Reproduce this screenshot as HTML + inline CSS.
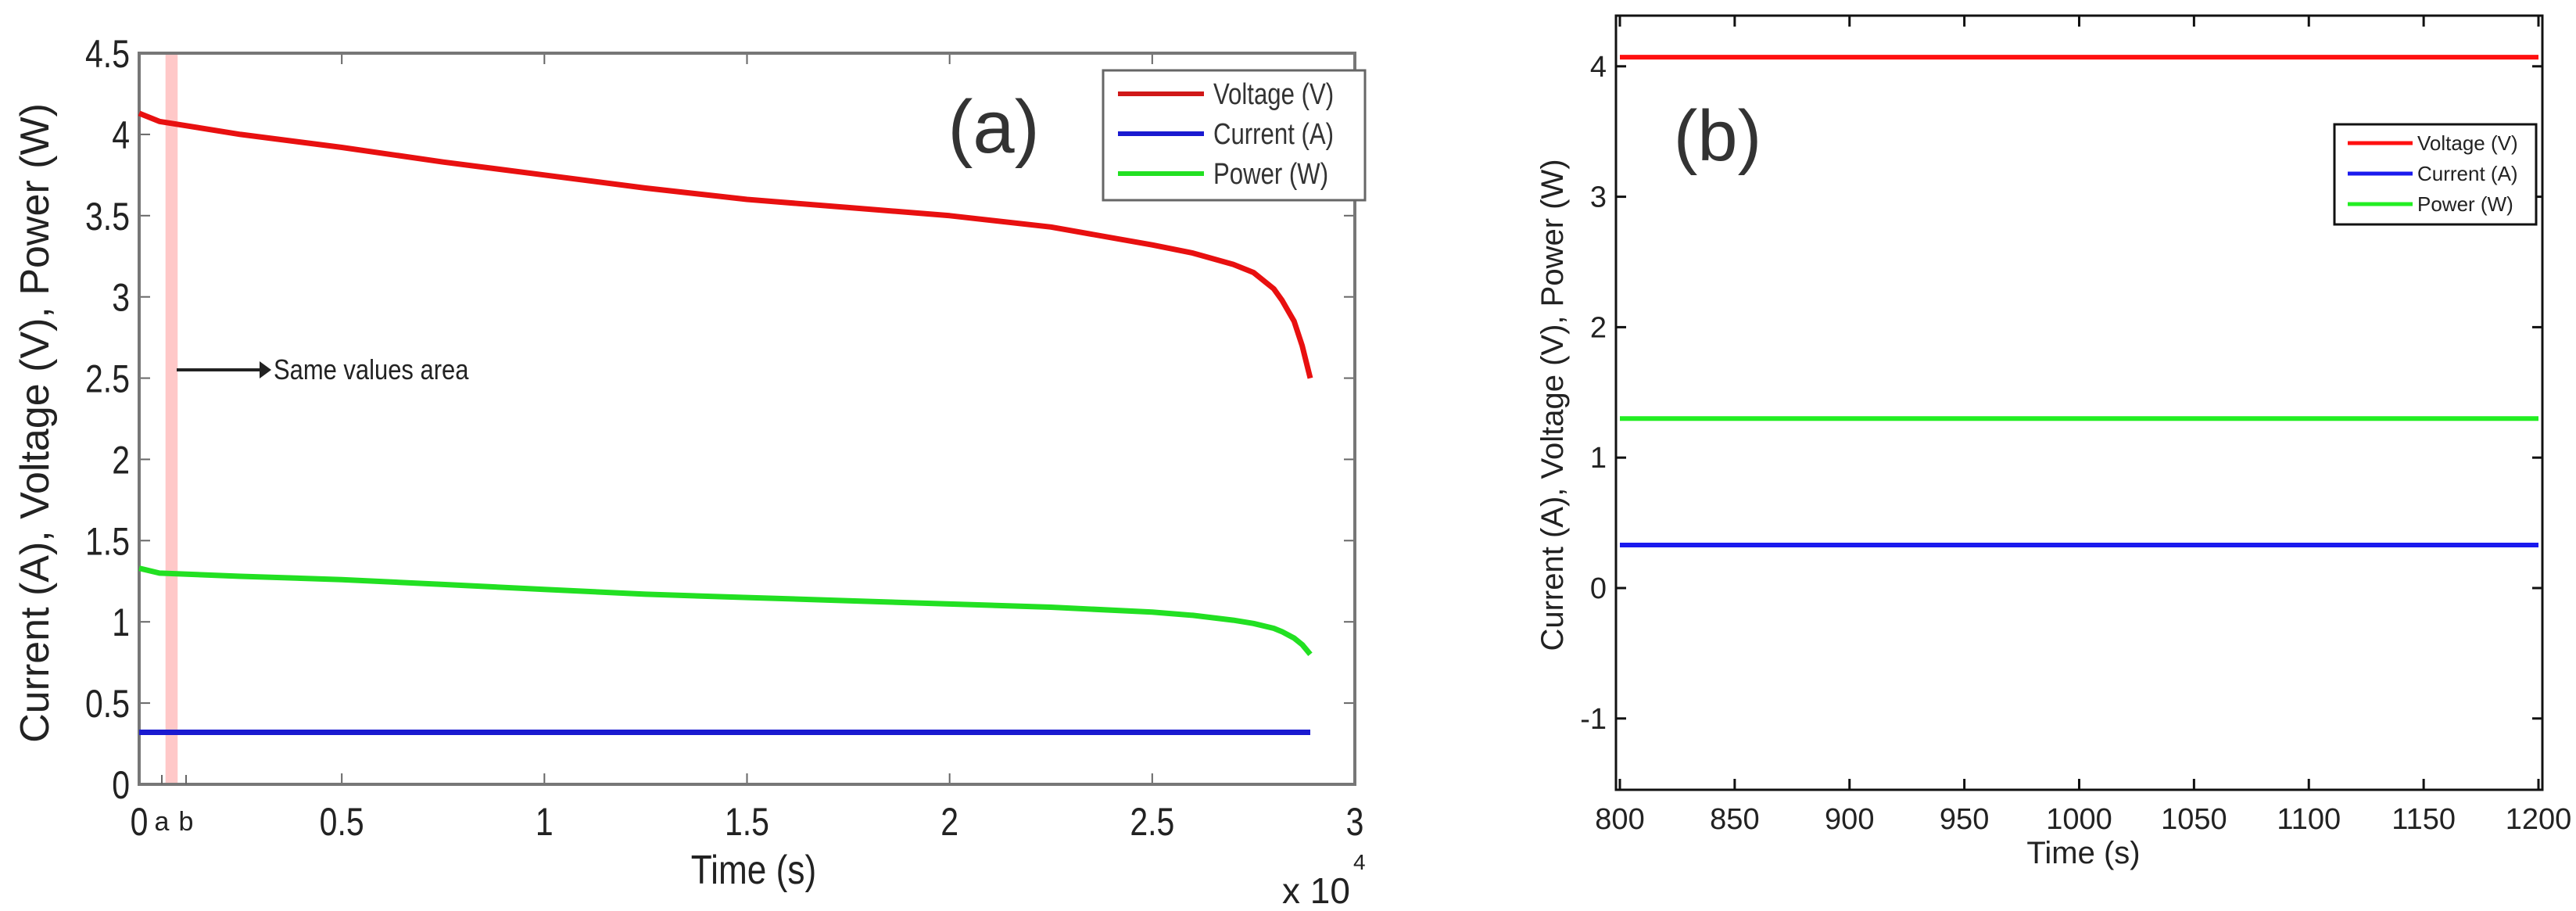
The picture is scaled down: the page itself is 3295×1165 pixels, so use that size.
<!DOCTYPE html>
<html><head><meta charset="utf-8"><style>
html,body{margin:0;padding:0;background:#fff;}
svg{display:block;font-family:"Liberation Sans",sans-serif;}
</style></head><body>
<svg id="chart" width="3295" height="1165" viewBox="0 0 3295 1165" xmlns="http://www.w3.org/2000/svg">
<g id="pa"></g>
<g id="pb"></g>
</svg>
<script>
// Panel (a) data (time in 1e4 s)
const aTime = [0, 0.05, 0.25, 0.5, 0.75, 1, 1.25, 1.5, 1.75, 2, 2.25, 2.5, 2.6, 2.7, 2.75, 2.8, 2.82, 2.85, 2.87, 2.89];
const aVoltage = [4.13, 4.08, 4.0, 3.92, 3.83, 3.75, 3.67, 3.6, 3.55, 3.5, 3.43, 3.32, 3.27, 3.2, 3.15, 3.05, 2.98, 2.85, 2.7, 2.5];
const aPower = [1.33, 1.3, 1.28, 1.26, 1.23, 1.2, 1.17, 1.15, 1.13, 1.11, 1.09, 1.06, 1.04, 1.01, 0.99, 0.96, 0.94, 0.9, 0.86, 0.8];
const aCurrent = [0.32, 0.32, 0.32, 0.32, 0.32, 0.32, 0.32, 0.32, 0.32, 0.32, 0.32, 0.32, 0.32, 0.32, 0.32, 0.32, 0.32, 0.32, 0.32, 0.32];
const aXTicks = [0, 0.5, 1, 1.5, 2, 2.5, 3];
const aXTickLabels = ["0", "0.5", "1", "1.5", "2", "2.5", "3"];
const aYTicks = [0, 0.5, 1, 1.5, 2, 2.5, 3, 3.5, 4, 4.5];
const aYTickLabels = ["0", "0.5", "1", "1.5", "2", "2.5", "3", "3.5", "4", "4.5"];
const aBand = [0.065, 0.095];
// Panel (b) data
const bTime = [800, 1200];
const bVoltage = [4.07, 4.07];
const bCurrent = [0.33, 0.33];
const bPower = [1.3, 1.3];
const bXTicks = [800, 850, 900, 950, 1000, 1050, 1100, 1150, 1200];
const bYTicks = [-1, 0, 1, 2, 3, 4];

const NS = "http://www.w3.org/2000/svg";
function mk(parent, tag, attrs, text) {
  const e = document.createElementNS(NS, tag);
  for (const k in attrs) e.setAttribute(k, attrs[k]);
  if (text !== undefined) e.textContent = text;
  parent.appendChild(e);
  return e;
}
const pa = document.getElementById('pa');
const pb = document.getElementById('pb');

// ---- Panel a
const A = {l:178, r:1733, t:68, b:1003, x0:0, x1:3, y0:0, y1:4.5};
const ax = v => A.l + (v - A.x0) / (A.x1 - A.x0) * (A.r - A.l);
const ay = v => A.b - (v - A.y0) / (A.y1 - A.y0) * (A.b - A.t);

let band = mk(pa, 'rect', {x: ax(aBand[0]), y: A.t, width: ax(aBand[1]) - ax(aBand[0]), height: A.b - A.t, fill: '#ffc8c8'});



aXTicks.forEach((v, i) => {
  let t = mk(pa, 'line', {x1: ax(v), x2: ax(v), y1: A.b, y2: A.b - 14, stroke: '#666', 'stroke-width': 2});
  
  
  mk(pa, 'line', {x1: ax(v), x2: ax(v), y1: A.t, y2: A.t + 14, stroke: '#666', 'stroke-width': 2});
  let l = mk(pa, 'text', {x: ax(v), y: 1068, 'font-size': 50, 'text-anchor': 'middle', fill: '#222', transform: `translate(${ax(v)},0) scale(0.82,1) translate(${-ax(v)},0)`}, aXTickLabels[i]);
  
  
});
aYTicks.forEach((v, i) => {
  let t = mk(pa, 'line', {x1: A.l, x2: A.l + 14, y1: ay(v), y2: ay(v), stroke: '#666', 'stroke-width': 2});
  
  
  mk(pa, 'line', {x1: A.r, x2: A.r - 14, y1: ay(v), y2: ay(v), stroke: '#666', 'stroke-width': 2});
  let l = mk(pa, 'text', {x: 166, y: ay(v) + 18, 'font-size': 50, 'text-anchor': 'end', fill: '#222', transform: `translate(166,0) scale(0.82,1) translate(-166,0)`}, aYTickLabels[i]);
  
  
});
let fa = mk(pa, 'rect', {x: A.l, y: A.t, width: A.r - A.l, height: A.b - A.t, fill: 'none', stroke: '#777', 'stroke-width': 4});



function line(parent, xs, ys, fx, fy, color, w, name) {
  const pts = xs.map((x, i) => fx(x).toFixed(1) + ',' + fy(ys[i]).toFixed(1)).join(' ');
  const p = mk(parent, 'polyline', {points: pts, fill: 'none', stroke: color, 'stroke-width': w, 'stroke-linejoin': 'round'});
  
  
}
line(pa, aTime, aVoltage, ax, ay, '#e81010', 7, 'voltage-line-a');
line(pa, aTime, aPower, ax, ay, '#22e022', 7, 'power-line-a');
line(pa, aTime, aCurrent, ax, ay, '#1a1ad0', 7, 'current-line-a');

// a/b markers
[['a', 207], ['b', 238]].forEach(([s, x]) => {
  mk(pa, 'line', {x1: x, x2: x, y1: A.b, y2: A.b - 12, stroke: '#666', 'stroke-width': 2});
  let t = mk(pa, 'text', {x: x, y: 1062, 'font-size': 34, 'text-anchor': 'middle', fill: '#222'}, s);
  
  
});
// annotation arrow
let ar = mk(pa, 'line', {x1: 226, x2: 335, y1: 473, y2: 473, stroke: '#222', 'stroke-width': 4});


mk(pa, 'polygon', {points: '332,462 347,473 332,484', fill: '#222'});
let an = mk(pa, 'text', {x: 350, y: 485, 'font-size': 36, fill: '#222', transform: 'translate(350,0) scale(0.86,1) translate(-350,0)'}, 'Same values area');



let ta = mk(pa, 'text', {x: 1271, y: 195, 'font-size': 96, 'text-anchor': 'middle', fill: '#333'}, '(a)');



let xa = mk(pa, 'text', {x: 964, y: 1130, 'font-size': 52, 'text-anchor': 'middle', fill: '#222', transform: 'translate(964,0) scale(0.85,1) translate(-964,0)'}, 'Time (s)');


let ex = mk(pa, 'text', {x: 1640, y: 1155, 'font-size': 46, fill: '#222'}, 'x 10');


mk(pa, 'text', {x: 1731, y: 1112, 'font-size': 28, fill: '#222'}, '4');
let ya = mk(pa, 'text', {x: 0, y: 0, 'font-size': 52, 'text-anchor': 'middle', fill: '#222', transform: 'translate(62,541) rotate(-90)'}, 'Current (A), Voltage (V), Power (W)');



// legend a
let lga = mk(pa, 'g', {});


mk(lga, 'rect', {x: 1411, y: 90, width: 335, height: 166, fill: '#fff', stroke: '#666', 'stroke-width': 3});
[['Voltage (V)', '#d01818'], ['Current (A)', '#1a1ad0'], ['Power (W)', '#22e022']].forEach(([s, c], i) => {
  const y = 120 + i * 51;
  let g = mk(lga, 'g', {});
  
  
  mk(g, 'line', {x1: 1430, x2: 1540, y1: y, y2: y, stroke: c, 'stroke-width': 6});
  mk(g, 'text', {x: 1552, y: y + 13, 'font-size': 38, fill: '#333', transform: 'translate(1552,0) scale(0.82,1) translate(-1552,0)'}, s);
});

// ---- Panel b
const B = {l:2067, r:3252, t:20, b:1010};
const bx = v => 2072 + (v - 800) / 400 * (3247 - 2072);
const by = v => 752 - v * 166.8;

bXTicks.forEach(v => {
  let t = mk(pb, 'line', {x1: bx(v), x2: bx(v), y1: B.b, y2: B.b - 14, stroke: '#111', 'stroke-width': 3});
  
  
  mk(pb, 'line', {x1: bx(v), x2: bx(v), y1: B.t, y2: B.t + 14, stroke: '#111', 'stroke-width': 3});
  let l = mk(pb, 'text', {x: bx(v), y: 1060, 'font-size': 38, 'text-anchor': 'middle', fill: '#222'}, String(v));
  
  
});
bYTicks.forEach(v => {
  let t = mk(pb, 'line', {x1: B.l, x2: B.l + 13, y1: by(v), y2: by(v), stroke: '#111', 'stroke-width': 3});
  
  
  mk(pb, 'line', {x1: B.r, x2: B.r - 13, y1: by(v), y2: by(v), stroke: '#111', 'stroke-width': 3});
  let l = mk(pb, 'text', {x: 2055, y: by(v) + 13, 'font-size': 38, 'text-anchor': 'end', fill: '#222'}, String(v));
  
  
});
let fb = mk(pb, 'rect', {x: B.l, y: B.t, width: B.r - B.l, height: B.b - B.t, fill: 'none', stroke: '#111', 'stroke-width': 3});


line(pb, bTime, bVoltage, bx, by, '#ff1010', 6, 'voltage-line-b');
line(pb, bTime, bPower, bx, by, '#22ee22', 6, 'power-line-b');
line(pb, bTime, bCurrent, bx, by, '#1a1aee', 6, 'current-line-b');

let tb = mk(pb, 'text', {x: 2197, y: 205, 'font-size': 92, 'text-anchor': 'middle', fill: '#333'}, '(b)');


let xb = mk(pb, 'text', {x: 2665, y: 1104, 'font-size': 40, 'text-anchor': 'middle', fill: '#222'}, 'Time (s)');


let yb = mk(pb, 'text', {x: 0, y: 0, 'font-size': 40, 'text-anchor': 'middle', fill: '#222', transform: 'translate(1999,518) rotate(-90)'}, 'Current (A), Voltage (V), Power (W)');



let lgb = mk(pb, 'g', {});


mk(lgb, 'rect', {x: 2986, y: 159, width: 258, height: 128, fill: '#fff', stroke: '#111', 'stroke-width': 3});
[['Voltage (V)', '#ff1010'], ['Current (A)', '#1a1aee'], ['Power (W)', '#22ee22']].forEach(([s, c], i) => {
  const y = 183 + i * 39;
  let g = mk(lgb, 'g', {});
  
  
  mk(g, 'line', {x1: 3003, x2: 3086, y1: y, y2: y, stroke: c, 'stroke-width': 5});
  mk(g, 'text', {x: 3092, y: y + 9, 'font-size': 26, fill: '#222'}, s);
});
</script>
</body></html>
